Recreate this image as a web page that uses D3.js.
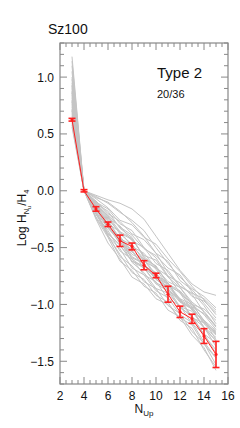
<!DOCTYPE html>
<html><head><meta charset="utf-8">
<script src="https://cdn.jsdelivr.net/npm/d3@7"></script>
<style>body{margin:0;background:#fff}svg{display:block}text{font-family:"Liberation Sans",Arial,sans-serif}</style>
</head><body>
<script>
const nUp = [3,4,5,6,7,8,9,10,11,12,13,14,15];
const meanVals = [0.625,0,-0.16,-0.295,-0.44,-0.49,-0.655,-0.745,-0.91,-1.065,-1.126,-1.278,-1.44];
const meanErr  = [0.012,0.01,0.02,0.02,0.05,0.03,0.04,0.02,0.07,0.05,0.04,0.065,0.115];
const grayLines = [
 [1.18,0,-0.05,-0.11,-0.19,-0.26,-0.35,-0.50,-0.64,-0.76,-0.86,-0.93,-1.03],
 [1.10,0,-0.07,-0.15,-0.26,-0.30,-0.41,-0.47,-0.60,-0.71,-0.84,-0.96,-1.09],
 [1.05,0,-0.09,-0.20,-0.27,-0.38,-0.43,-0.55,-0.62,-0.79,-0.87,-0.99,-1.12],
 [0.98,0,-0.10,-0.21,-0.32,-0.39,-0.51,-0.57,-0.68,-0.74,-0.89,-1.01,-1.17],
 [0.95,0,-0.12,-0.24,-0.31,-0.44,-0.50,-0.64,-0.70,-0.84,-0.91,-1.07,-1.20],
 [0.92,0,-0.13,-0.25,-0.37,-0.43,-0.57,-0.61,-0.76,-0.85,-1.00,-1.09,-1.22],
 [0.90,0,-0.14,-0.29,-0.36,-0.49,-0.55,-0.68,-0.75,-0.90,-0.99,-1.15,-1.25],
 [0.88,0,-0.15,-0.27,-0.42,-0.48,-0.60,-0.66,-0.82,-0.90,-1.05,-1.14,-1.31],
 [0.86,0,-0.11,-0.23,-0.38,-0.47,-0.62,-0.68,-0.80,-0.85,-0.98,-1.06,-1.19],
 [0.84,0,-0.16,-0.32,-0.40,-0.54,-0.60,-0.74,-0.81,-0.97,-1.04,-1.20,-1.32],
 [0.82,0,-0.17,-0.30,-0.47,-0.53,-0.66,-0.72,-0.87,-0.95,-1.11,-1.20,-1.37],
 [0.80,0,-0.19,-0.33,-0.45,-0.59,-0.64,-0.78,-0.84,-0.96,-1.02,-1.17,-1.27],
 [0.78,0,-0.19,-0.37,-0.48,-0.62,-0.68,-0.82,-0.88,-1.03,-1.10,-1.27,-1.40],
 [0.76,0,-0.14,-0.26,-0.43,-0.52,-0.69,-0.75,-0.88,-0.96,-1.12,-1.16,-1.26],
 [0.74,0,-0.21,-0.35,-0.53,-0.60,-0.74,-0.80,-0.95,-1.01,-1.17,-1.26,-1.43],
 [0.72,0,-0.20,-0.40,-0.51,-0.68,-0.74,-0.88,-0.94,-1.09,-1.16,-1.33,-1.47],
 [0.70,0,-0.23,-0.39,-0.58,-0.66,-0.80,-0.86,-1.01,-1.08,-1.24,-1.34,-1.53],
 [0.68,0,-0.12,-0.30,-0.42,-0.60,-0.68,-0.81,-0.86,-0.98,-1.04,-1.21,-1.32],
 [0.66,0,-0.24,-0.41,-0.62,-0.70,-0.84,-0.90,-1.05,-1.11,-1.27,-1.38,-1.58],
 [0.64,0,-0.25,-0.46,-0.60,-0.76,-0.82,-0.95,-1.00,-1.12,-1.18,-1.35,-1.47],
 [0.62,0,-0.18,-0.40,-0.56,-0.72,-0.78,-0.92,-0.98,-1.14,-1.21,-1.40,-1.55],
 [0.60,0,-0.13,-0.22,-0.36,-0.42,-0.58,-0.67,-0.82,-0.88,-1.00,-1.04,-1.14],
 [0.58,0,-0.16,-0.32,-0.44,-0.63,-0.72,-0.86,-0.90,-1.02,-1.06,-1.20,-1.29],
 [0.56,0,-0.10,-0.16,-0.29,-0.35,-0.50,-0.59,-0.75,-0.81,-0.93,-0.97,-1.07],
 [1.00,0,-0.04,-0.08,-0.11,-0.16,-0.25,-0.40,-0.55,-0.70,-0.82,-0.89,-0.92],
 [0.93,0,-0.15,-0.31,-0.42,-0.58,-0.64,-0.77,-0.82,-0.95,-1.00,-1.14,-1.23],
 [0.87,0,-0.20,-0.38,-0.48,-0.62,-0.66,-0.78,-0.86,-1.02,-1.11,-1.26,-1.34],
 [0.79,0,-0.11,-0.18,-0.33,-0.41,-0.59,-0.69,-0.84,-0.89,-1.02,-1.08,-1.19],
 [0.71,0,-0.17,-0.33,-0.41,-0.56,-0.61,-0.75,-0.82,-0.97,-1.03,-1.16,-1.24],
 [1.14,0,-0.06,-0.10,-0.18,-0.28,-0.40,-0.55,-0.72,-0.84,-0.90,-0.95,-1.05]
];
const xTicks = [2,4,6,8,10,12,14,16];
const yTicks = [-1.5,-1.0,-0.5,0.0,0.5,1.0];

const W=240,H=428;
const L=60,R=228,T=43,B=384;
const svg=d3.select("body").append("svg").attr("width",W).attr("height",H);
const x=d3.scaleLinear().domain([2,16]).range([L,R]);
const y=d3.scaleLinear().domain([-1.7,1.3]).range([B,T]);
const axisCol="#888";

const line=d3.line().x((d,i)=>x(nUp[i])).y(d=>y(d)).defined(d=>d!=null);
svg.append("g").selectAll("path").data(grayLines).join("path")
 .attr("d",line).attr("fill","none").attr("stroke","#c4c4c4").attr("stroke-width",1);

svg.append("rect").attr("x",L).attr("y",T).attr("width",R-L).attr("height",B-T)
 .attr("fill","none").attr("stroke",axisCol).attr("stroke-width",1.2);

const gt=svg.append("g").attr("stroke",axisCol).attr("stroke-width",1);
const xMinor=d3.range(2,16.001,0.5);
xMinor.forEach(v=>{
  const major=Math.abs(v/2-Math.round(v/2))<1e-6;
  const len=major?7:4;
  gt.append("line").attr("x1",x(v)).attr("x2",x(v)).attr("y1",B).attr("y2",B-len);
  gt.append("line").attr("x1",x(v)).attr("x2",x(v)).attr("y1",T).attr("y2",T+len);
});
const yMinor=d3.range(-17,13.001,1).map(v=>v/10);
yMinor.forEach(v=>{
  const major=Math.abs(v*2-Math.round(v*2))<1e-6;
  const len=major?7:4;
  gt.append("line").attr("x1",L).attr("x2",L+len).attr("y1",y(v)).attr("y2",y(v));
  gt.append("line").attr("x1",R).attr("x2",R-len).attr("y1",y(v)).attr("y2",y(v));
});

svg.append("g").selectAll("text").data(xTicks).join("text")
 .attr("x",d=>x(d)).attr("y",400).attr("text-anchor","middle").attr("font-size",12).attr("fill","#111")
 .text(d=>d);
svg.append("g").selectAll("text").data(yTicks).join("text")
 .attr("x",54).attr("y",d=>y(d)+4.5).attr("text-anchor","end").attr("font-size",12).attr("fill","#111")
 .text(d=>(d<0?"\u2212":"")+Math.abs(d).toFixed(1));

const red="#ff2020";
const mline=d3.line().x((d,i)=>x(nUp[i])).y(d=>y(d));
svg.append("path").attr("d",mline(meanVals)).attr("fill","none").attr("stroke",red).attr("stroke-width",1);
const eg=svg.append("g").attr("stroke",red).attr("stroke-width",1.6);
meanVals.forEach((v,i)=>{
  const cx=x(nUp[i]), y1=y(v+meanErr[i]), y2=y(v-meanErr[i]);
  eg.append("line").attr("x1",cx).attr("x2",cx).attr("y1",y1).attr("y2",y2);
  eg.append("line").attr("x1",cx-3.5).attr("x2",cx+3.5).attr("y1",y1).attr("y2",y1);
  eg.append("line").attr("x1",cx-3.5).attr("x2",cx+3.5).attr("y1",y2).attr("y2",y2);
});
svg.append("g").selectAll("circle").data(meanVals).join("circle")
 .attr("cx",(d,i)=>x(nUp[i])).attr("cy",d=>y(d)).attr("r",1.6).attr("fill",red);

svg.append("text").attr("x",48).attr("y",34).attr("font-size",14).attr("fill","#111").text("Sz100");
svg.append("text").attr("x",157).attr("y",78).attr("font-size",15).attr("fill","#111").text("Type 2");
svg.append("text").attr("x",157).attr("y",98).attr("font-size",11).attr("fill","#111").text("20/36");

const xl=svg.append("text").attr("x",144).attr("y",413).attr("text-anchor","middle").attr("font-size",12).attr("fill","#111");
xl.append("tspan").text("N");
xl.append("tspan").attr("font-size",8).attr("dy",3).text("Up");

const yl=svg.append("text").attr("transform","translate(26,218) rotate(-90)").attr("text-anchor","middle").attr("font-size",12).attr("fill","#111");
yl.append("tspan").text("Log H");
yl.append("tspan").attr("font-size",7.5).attr("dy",3).text("N");
yl.append("tspan").attr("font-size",5.5).attr("dy",1.5).text("u");
yl.append("tspan").attr("font-size",12).attr("dy",-4.5).text("/H");
yl.append("tspan").attr("font-size",7.5).attr("dy",3).text("4");
</script>
</body></html>
